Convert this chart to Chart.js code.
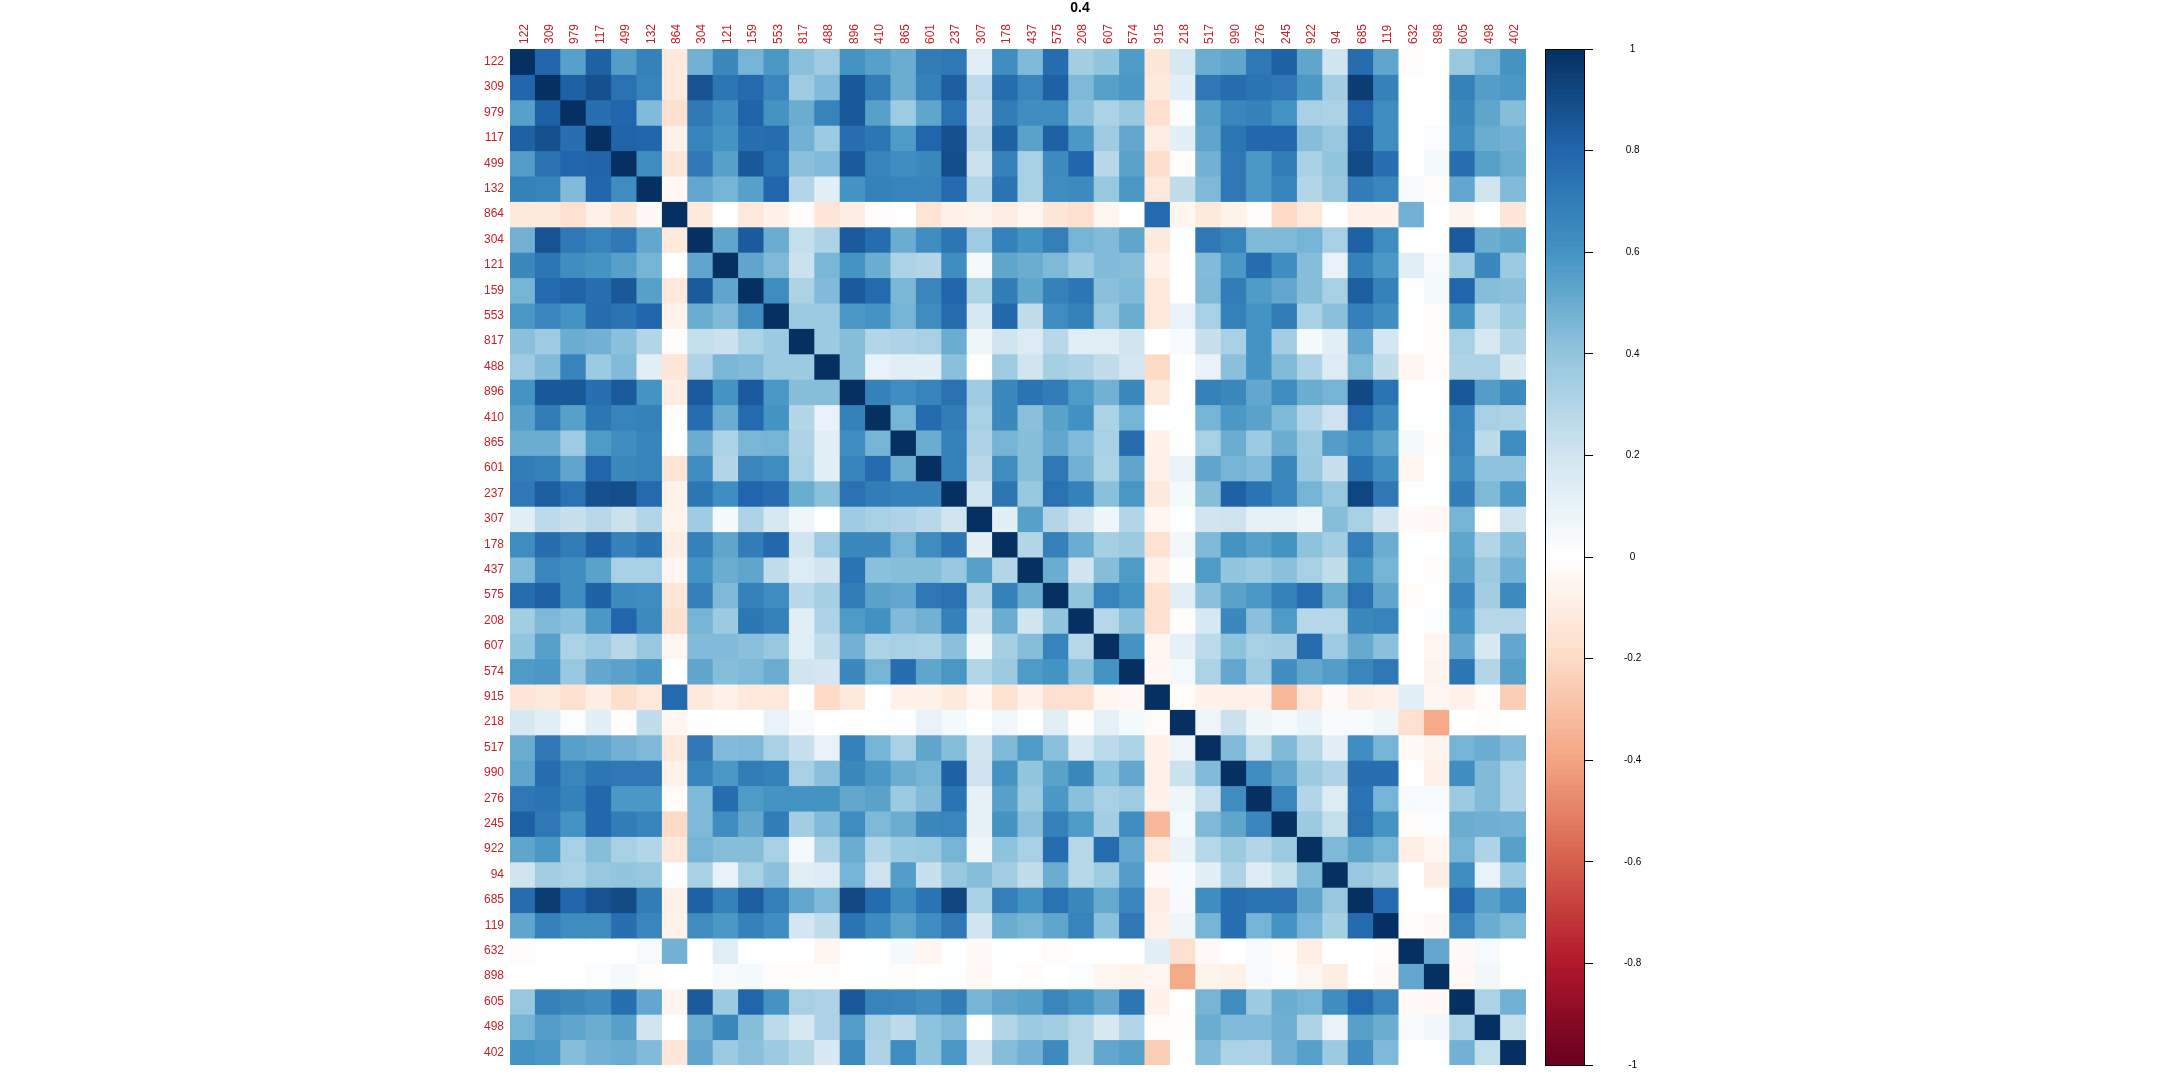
<!DOCTYPE html>
<html>
<head>
<meta charset="utf-8">
<title>0.4</title>
<script src="https://cdn.jsdelivr.net/npm/chart.js@4"></script>
<style>
  html, body { margin: 0; padding: 0; background: #fff; overflow: hidden; }
  canvas { position: absolute; top: 0; }
  #heat { left: 0; }
  #bar { left: 1530px; }
</style>
</head>
<body>
<canvas id="heat" width="1530" height="1080"></canvas>
<canvas id="bar" width="630" height="1102"></canvas>
<script>
const titleText = '0.4';
const labels = ['122','309','979','117','499','132','864','304','121','159','553','817','488','896','410','865','601','237','307','178','437','575','208','607','574','915','218','517','990','276','245','922','94','685','119','632','898','605','498','402'];
const barTicks = [-1, -0.8, -0.6, -0.4, -0.2, 0, 0.2, 0.4, 0.6, 0.8, 1];
const stops = ['#67001F','#B2182B','#D6604D','#F4A582','#FDDBC7','#FFFFFF','#D1E5F0','#92C5DE','#4393C3','#2166AC','#053061'];

// upper triangle only, each row starts at its own diagonal
const r122 = [1,.8,.55,.82,.56,.68,-.12,.48,.65,.47,.58,.42,.36,.6,.55,.5,.7,.72,.13,.63,.45,.77,.35,.4,.57,-.14,.18,.5,.53,.72,.82,.53,.2,.77,.53,-.01,0,.38,.47,.6];
const r309 = [1,.82,.88,.75,.67,-.12,.87,.73,.78,.66,.36,.44,.85,.7,.5,.68,.83,.27,.77,.66,.82,.45,.55,.58,-.12,.12,.72,.77,.74,.72,.58,.35,.95,.68,0,0,.68,.56,.58];
const r979 = [1,.76,.8,.44,-.17,.72,.62,.81,.6,.5,.67,.85,.55,.36,.53,.75,.23,.7,.62,.63,.42,.32,.38,-.17,.02,.55,.66,.68,.6,.33,.32,.8,.63,0,0,.65,.53,.43];
const r117 = [1,.81,.8,-.08,.67,.6,.76,.77,.48,.37,.76,.73,.57,.8,.88,.28,.82,.54,.82,.58,.36,.52,-.1,.12,.53,.73,.79,.79,.43,.38,.87,.63,0,.02,.62,.5,.48];
const r499 = [1,.63,-.14,.72,.55,.85,.74,.42,.44,.84,.67,.62,.65,.89,.22,.68,.33,.64,.8,.28,.54,-.18,-.01,.48,.72,.58,.7,.33,.4,.9,.76,0,.05,.76,.55,.5];
const r132 = [1,-.04,.52,.47,.55,.8,.3,.12,.6,.68,.67,.67,.78,.3,.74,.33,.63,.64,.38,.58,-.13,.25,.45,.72,.58,.67,.3,.38,.7,.66,.04,-.01,.52,.2,.44];
const r864 = [1,-.12,0,-.13,-.07,-.01,-.14,-.1,-.01,0,-.15,-.07,-.06,-.1,-.05,-.14,-.17,-.05,0,.78,-.05,-.12,-.07,-.02,-.2,-.13,.01,-.08,-.07,.48,0,-.06,0,-.14];
const r304 = [1,.53,.84,.5,.24,.31,.84,.77,.5,.63,.73,.36,.68,.6,.69,.47,.44,.53,-.12,.01,.72,.67,.45,.45,.47,.33,.82,.63,0,0,.84,.5,.53];
const r121 = [1,.53,.45,.22,.46,.6,.5,.32,.3,.62,.05,.53,.5,.45,.37,.44,.43,-.08,0,.44,.58,.77,.62,.43,.1,.68,.58,.13,.04,.37,.65,.37];
const r159 = [1,.63,.32,.44,.84,.78,.46,.66,.8,.32,.7,.53,.68,.73,.42,.45,-.13,0,.45,.7,.57,.52,.43,.33,.83,.68,.01,.05,.8,.43,.42];
const r553 = [1,.37,.37,.58,.6,.47,.63,.77,.18,.79,.25,.63,.68,.38,.5,-.13,.1,.33,.68,.6,.7,.33,.42,.69,.62,0,-.01,.6,.27,.37];
const r817 = [1,.37,.43,.3,.31,.33,.5,.07,.2,.15,.28,.13,.14,.2,0,.03,.23,.33,.6,.35,.05,.13,.52,.19,0,-.01,.33,.18,.3];
const r488 = [1,.43,.1,.13,.12,.42,.01,.36,.2,.34,.31,.25,.19,-.2,0,.1,.42,.6,.44,.31,.15,.45,.25,-.05,-.01,.31,.31,.17];
const r896 = [1,.68,.62,.67,.75,.36,.65,.74,.7,.57,.48,.65,-.12,0,.68,.65,.52,.63,.5,.47,.91,.74,0,0,.85,.56,.64];
const r410 = [1,.47,.78,.7,.33,.65,.42,.54,.61,.32,.47,0,.01,.47,.58,.54,.45,.3,.21,.78,.64,.01,.01,.67,.33,.31];
const r865 = [1,.5,.68,.31,.47,.43,.52,.44,.33,.77,-.07,.01,.33,.5,.37,.5,.37,.56,.62,.54,.05,-.01,.66,.27,.63];
const r601 = [1,.68,.28,.63,.43,.72,.48,.32,.53,-.08,.1,.53,.47,.44,.65,.38,.23,.74,.62,-.05,0,.62,.41,.41];
const r237 = [1,.2,.73,.38,.75,.68,.42,.59,-.12,.05,.43,.82,.74,.66,.47,.38,.92,.72,.01,.01,.7,.45,.58];
const r307 = [1,.12,.55,.3,.2,.07,.3,-.05,.01,.2,.21,.11,.11,.07,.43,.33,.2,-.03,-.04,.47,.01,.2];
const r178 = [1,.3,.68,.5,.34,.37,-.16,.06,.45,.6,.55,.6,.41,.35,.69,.5,.01,0,.53,.3,.43];
const r437 = [1,.5,.2,.43,.57,-.07,.01,.57,.4,.37,.42,.33,.25,.6,.47,0,-.01,.55,.37,.48];
const r575 = [1,.4,.67,.6,-.17,.13,.42,.54,.58,.68,.77,.5,.75,.53,-.02,0,.66,.35,.64];
const r208 = [1,.29,.42,-.17,-.01,.18,.65,.42,.57,.29,.29,.65,.67,0,.02,.6,.29,.29];
const r607 = [1,.6,-.05,.11,.27,.41,.33,.35,.77,.36,.51,.42,0,-.05,.52,.17,.52];
const r574 = [1,-.04,.05,.32,.52,.36,.62,.52,.56,.66,.72,0,-.06,.73,.3,.55];
const r915 = [1,-.02,-.07,-.08,-.07,-.33,-.13,-.03,-.1,-.08,.12,-.05,-.07,-.02,-.25];
const r218 = [1,.08,.22,.07,.05,.09,.03,.03,.07,-.17,-.38,0,-.01,0];
const r517 = [1,.44,.24,.45,.29,.12,.62,.47,-.03,-.06,.47,.5,.44];
const r990 = [1,.63,.53,.37,.31,.76,.76,0,-.08,.62,.44,.32];
const r276 = [1,.66,.3,.15,.74,.47,.04,.03,.37,.44,.31];
const r245 = [1,.37,.24,.75,.6,-.02,.02,.5,.49,.48];
const r922 = [1,.45,.53,.47,-.09,-.05,.47,.31,.55];
const r94  = [1,.38,.34,0,-.1,.62,.1,.37];
const r685 = [1,.78,0,0,.78,.55,.62];
const r119 = [1,-.01,-.03,.66,.5,.45];
const r632 = [1,.52,-.03,.04,0];
const r898 = [1,-.04,.06,.01];
const r605 = [1,.32,.48];
const r498 = [1,.24];
const r402 = [1];

const upper = [r122,r309,r979,r117,r499,r132,r864,r304,r121,r159,r553,r817,r488,r896,r410,r865,r601,r237,r307,r178,r437,r575,r208,r607,r574,r915,r218,r517,r990,r276,r245,r922,r94,r685,r119,r632,r898,r605,r498,r402];
upper.forEach((row, i) => {
  if (row.length !== 40 - i) throw new Error(`row ${labels[i]} has ${row.length} values`);
});
const value = (i, j) => (i <= j ? upper[i][j - i] : upper[j][i - j]);

function hexRgb(hex) {
  return [1, 3, 5].map((p) => parseInt(hex.slice(p, p + 2), 16));
}

function colorOf(v) {
  const pos = Math.min(Math.max((v + 1) * 5, 0), 10);
  const lo = Math.min(Math.floor(pos), 9);
  const a = hexRgb(stops[lo]);
  const b = hexRgb(stops[lo + 1]);
  const t = pos - lo;
  return `rgb(${a.map((c, k) => Math.round(c + (b[k] - c) * t)).join(',')})`;
}

const font = { family: '"Liberation Sans", Arial, sans-serif', size: 12 };
const labelColor = '#c81e28';

const titlePlugin = {
  id: 'plotTitle',
  afterDraw(chart) {
    const { ctx } = chart;
    ctx.save();
    ctx.font = 'bold 14px "Liberation Sans", Arial, sans-serif';
    ctx.fillStyle = '#000';
    ctx.textAlign = 'center';
    ctx.textBaseline = 'middle';
    ctx.fillText(titleText, 1080, 8);
    ctx.restore();
  },
};

new Chart(document.getElementById('heat'), {
  type: 'bar',
  data: {
    labels,
    datasets: labels.map((_, i) => ({
      label: labels[i],
      data: labels.map(() => [i, i + 1]),
      backgroundColor: labels.map((_c, j) => colorOf(value(i, j))),
      borderWidth: 0,
      inflateAmount: 0.5,
      grouped: false,
      barPercentage: 1,
      categoryPercentage: 1,
    })),
  },
  plugins: [titlePlugin],
  options: {
    responsive: false,
    animation: false,
    layout: { padding: { left: 0, top: 0, right: 4, bottom: 15 } },
    plugins: { legend: { display: false }, tooltip: { enabled: false } },
    scales: {
      x: {
        position: 'top',
        grid: { display: false, drawTicks: false },
        border: { display: false },
        ticks: { color: labelColor, font, autoSkip: false, minRotation: 90, maxRotation: 90, padding: 5, labelOffset: 16 },
        afterFit: (s) => { s.height = 49; },
      },
      y: {
        type: 'linear',
        reverse: true,
        min: 0,
        max: 40,
        grid: { display: false, drawTicks: false },
        border: { display: false },
        afterBuildTicks: (s) => { s.ticks = labels.map((_, i) => ({ value: i + 0.5 })); },
        ticks: { color: labelColor, font, autoSkip: false, padding: 6, callback: (v, i) => labels[i] },
        afterFit: (s) => { s.width = 510; },
      },
    },
  },
});

// colour key: 200 bands from -1 to 1
const bandEdges = Array.from({ length: 200 }, (_, i) => -1 + i * 0.01);

const boxPlugin = {
  id: 'keyBox',
  afterDraw(chart) {
    const { ctx, chartArea: a } = chart;
    ctx.save();
    ctx.strokeStyle = '#000';
    ctx.lineWidth = 1;
    ctx.strokeRect(Math.round(a.left) + 0.5, Math.round(a.top) + 0.5, Math.round(a.width), Math.round(a.height));
    ctx.restore();
  },
};

new Chart(document.getElementById('bar'), {
  type: 'bar',
  data: {
    labels: ['key'],
    datasets: bandEdges.map((v) => ({
      data: [[v, v + 0.01]],
      backgroundColor: colorOf(v + 0.005),
      borderWidth: 0,
      inflateAmount: 0.5,
      grouped: false,
      barPercentage: 1,
      categoryPercentage: 1,
    })),
  },
  plugins: [boxPlugin],
  options: {
    responsive: false,
    animation: false,
    layout: { autoPadding: false, padding: { left: 15, top: 49, right: 0, bottom: 15 } },
    plugins: { legend: { display: false }, tooltip: { enabled: false } },
    scales: {
      x: { display: false, grid: { display: false }, ticks: { display: false } },
      y: {
        position: 'right',
        min: -1,
        max: 1,
        afterBuildTicks: (s) => { s.ticks = barTicks.map((value) => ({ value })); },
        grid: { drawOnChartArea: false, color: '#000', tickLength: 9 },
        border: { color: '#000' },
        ticks: {
          color: '#000',
          font: { family: font.family, size: 10 },
          padding: 31,
          crossAlign: 'center',
          autoSkip: false,
          callback: (v) => String(+v.toFixed(1)),
        },
        afterFit: (s) => { s.width = 576; },
      },
    },
  },
});
</script>
</body>
</html>
